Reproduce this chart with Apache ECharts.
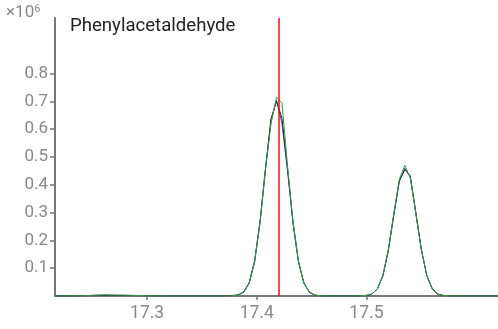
<!DOCTYPE html>
<html><head><meta charset="utf-8">
<script src="https://cdn.jsdelivr.net/npm/echarts@6/dist/echarts.min.js"></script>
<style>html,body{margin:0;padding:0;background:#fff}#c{width:498px;height:329px}</style>
</head><body><div id="c"></div>
<script>
const times = [17.216,17.24,17.26,17.28,17.30,17.32,17.34,17.36,17.373,
 17.378,17.383,17.388,17.393,17.398,17.403,17.408,17.413,17.418,17.423,17.428,17.433,17.438,17.443,17.448,17.453,17.458,
 17.47,17.48,17.49,
 17.500,17.505,17.510,17.515,17.520,17.525,17.530,17.535,17.540,17.545,17.550,17.555,17.560,17.565,17.570,
 17.58,17.60,17.62];
const seriesBlue = [0,0.001,0.002,0.002,0.001,0,0,0,0,
 0.001,0.003,0.013,0.044,0.12,0.262,0.455,0.63,0.705,0.62,0.45,0.262,0.122,0.045,0.014,0.003,0.001,
 0,0,0,
 0.002,0.007,0.025,0.071,0.162,0.29,0.41,0.46,0.428,0.3,0.168,0.074,0.026,0.007,0.002,
 0,0,0];
const seriesBlack = [0,0.001,0.003,0.002,0.001,0,0,0,0.001,
 0.002,0.004,0.015,0.047,0.126,0.27,0.462,0.638,0.70,0.64,0.462,0.268,0.125,0.047,0.014,0.003,0.001,
 0,0,0,
 0.002,0.007,0.026,0.073,0.166,0.295,0.415,0.455,0.432,0.302,0.17,0.075,0.026,0.007,0.002,
 0,0,0];
const seriesGreen = [0,0.001,0.004,0.003,0.001,0,0,0,0,
 0.001,0.003,0.014,0.046,0.124,0.266,0.46,0.62,0.715,0.695,0.47,0.27,0.126,0.046,0.014,0.003,0.001,
 0,0,0,
 0.002,0.007,0.026,0.074,0.167,0.296,0.42,0.47,0.425,0.298,0.168,0.074,0.026,0.007,0.002,
 0,0,0];
const xTicks = [17.3,17.4,17.5];
const yTicks = [0.1,0.2,0.3,0.4,0.5,0.6,0.7,0.8];
const markerTime = 17.418;
const titleText = 'Phenylacetaldehyde';

const pairs = v => times.map((t,i)=>[t,v[i]]);
const chart = echarts.init(document.getElementById('c'));
const axisColor = '#777';
const mk = (name,color,vals,extra) => Object.assign({
  name, type:'line', data:pairs(vals), symbol:'none', smooth:false,
  lineStyle:{color, width:1}, itemStyle:{color}, animation:false
}, extra||{});
chart.setOption({
  animation:false,
  title:{text:titleText,left:65,top:12,textStyle:{fontFamily:'Roboto',fontSize:18.6,fontWeight:'normal',color:'#222'}},
  graphic:[{type:'text',left:6,top:4,style:{text:'{a|×10}{b|6}',fontFamily:'Roboto',
    rich:{a:{fontSize:17,fill:'#888',fontFamily:'Roboto'},b:{fontSize:11,fill:'#888',fontFamily:'Roboto',verticalAlign:'top',padding:[0,0,7,0]}}}}],
  grid:{left:55,right:0,top:18,bottom:33,containLabel:false},
  xAxis:{type:'value',min:17.216,max:17.62,offset:3,
    axisLine:{show:true,lineStyle:{color:axisColor,width:2}},
    axisTick:{show:true,length:4,lineStyle:{color:axisColor,width:1.5},customValues:xTicks},
    axisLabel:{customValues:xTicks,color:'#888',fontFamily:'Roboto',fontSize:17.5,margin:6,formatter:v=>v.toFixed(1)},
    splitLine:{show:false}},
  yAxis:{type:'value',min:0,max:1,
    axisLine:{show:true,lineStyle:{color:axisColor,width:2}},
    axisTick:{show:true,length:5,lineStyle:{color:axisColor,width:1.5},customValues:yTicks},
    axisLabel:{customValues:yTicks,color:'#888',fontFamily:'Roboto',fontSize:17,margin:7,formatter:v=>v.toFixed(1)},
    splitLine:{show:false}},
  series:[
    mk('blue','#4050c8',seriesBlue),
    mk('black','#222',seriesBlack),
    mk('green','#3a9a4a',seriesGreen,{markLine:{silent:true,symbol:'none',label:{show:false},
      lineStyle:{color:'#ee1111',width:1.5,type:'solid'},data:[{xAxis:markerTime}]}})
  ]
});
</script></body></html>
